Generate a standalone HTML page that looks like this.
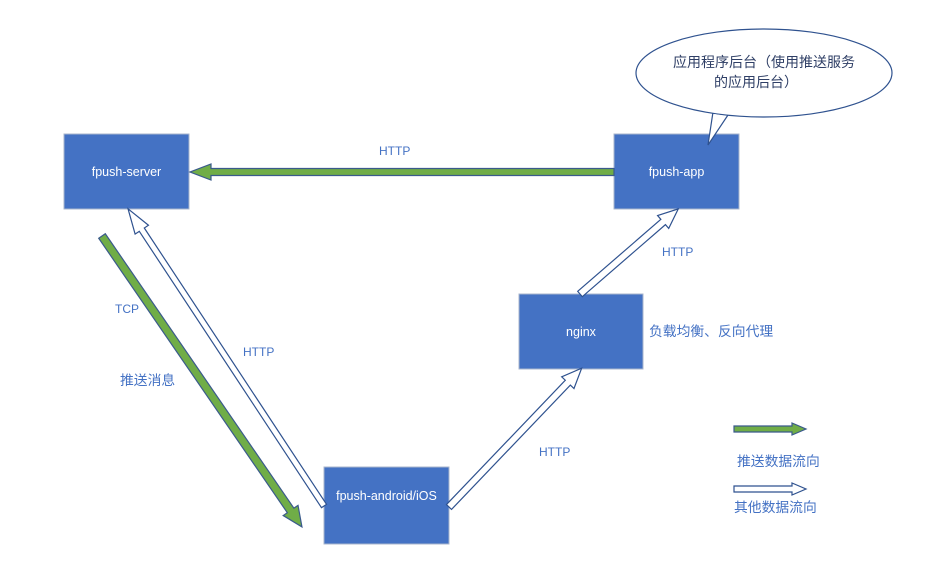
<!DOCTYPE html>
<html><head><meta charset="utf-8"><style>
body{margin:0;background:#fff}
svg{display:block}
text{font-family:"Liberation Sans","Noto Sans CJK SC",sans-serif;font-size:12px}
.lbl{fill:#4472c4}
.cj{font-size:13.8px}
.bub{fill:#2f3f66;font-size:14px}
.box{fill:#4472c4;stroke:#a9b6cc;stroke-width:1}
.bt{fill:#fff;font-size:12.5px}
.g{fill:#70ad47;stroke:#3a5a8c;stroke-width:1.2}
.w{fill:#fff;stroke:#2f528f;stroke-width:1.2}
</style></head><body>
<svg width="937" height="566" viewBox="0 0 937 566">
<rect class="box" x="64" y="134" width="125" height="75"/>
<text class="bt" x="126.5" y="176" text-anchor="middle">fpush-server</text>
<rect class="box" x="614" y="134" width="125" height="75"/>
<text class="bt" x="676.5" y="176" text-anchor="middle">fpush-app</text>
<rect class="box" x="519" y="294" width="124" height="75"/>
<text class="bt" x="581" y="336" text-anchor="middle">nginx</text>
<rect class="box" x="324" y="467" width="125" height="77"/>
<text class="bt" x="386.5" y="500" text-anchor="middle">fpush-android/iOS</text>

<g transform="translate(614,172) rotate(180)"><polygon class="g" points="0,-3.5 403,-3.5 403,-8 424,0 403,8 403,3.5 0,3.5"/></g>
<g transform="translate(102,236) rotate(55.5)"><polygon class="g" points="0,-4 333,-4 333,-9 353,0 333,9 333,4 0,4"/></g>
<g transform="translate(324,506) rotate(236.6)"><polygon class="w" points="0,-3 331,-3 331,-8 356,0 331,8 331,3 0,3"/></g>
<g transform="translate(449,507) rotate(-46.3)"><polygon class="w" points="0,-3.5 172,-3.5 172,-8.5 192,0 172,8.5 172,3.5 0,3.5"/></g>
<g transform="translate(580,294) rotate(-40.9)"><polygon class="w" points="0,-3.5 110,-3.5 110,-8.5 130,0 110,8.5 110,3.5 0,3.5"/></g>

<polygon class="g" points="734,426 792,426 792,423 806,429 792,435 792,432 734,432"/>
<text class="lbl cj" x="737" y="466">推送数据流向</text>
<polygon class="w" points="734,486 792,486 792,483 806,489 792,495 792,492 734,492"/>
<text class="lbl cj" x="734" y="512">其他数据流向</text>

<text class="lbl" x="379" y="155">HTTP</text>
<text class="lbl" x="662" y="256">HTTP</text>
<text class="lbl cj" x="649" y="336">负载均衡、反向代理</text>
<text class="lbl" x="539" y="456">HTTP</text>
<text class="lbl" x="243" y="356">HTTP</text>
<text class="lbl" x="115" y="313">TCP</text>
<text class="lbl cj" x="120" y="385">推送消息</text>

<polygon points="713,112 708,145 728,115" fill="#fff" stroke="#2f528f" stroke-width="1.2"/>
<ellipse cx="764" cy="73" rx="128" ry="44" fill="#fff" stroke="#2f528f" stroke-width="1.2"/>
<polygon points="714.5,114 710,140 726,116" fill="#fff"/>
<text class="bub" x="764" y="67" text-anchor="middle">应用程序后台（使用推送服务</text>
<text class="bub" x="756" y="87" text-anchor="middle">的应用后台）</text>
</svg>
</body></html>
